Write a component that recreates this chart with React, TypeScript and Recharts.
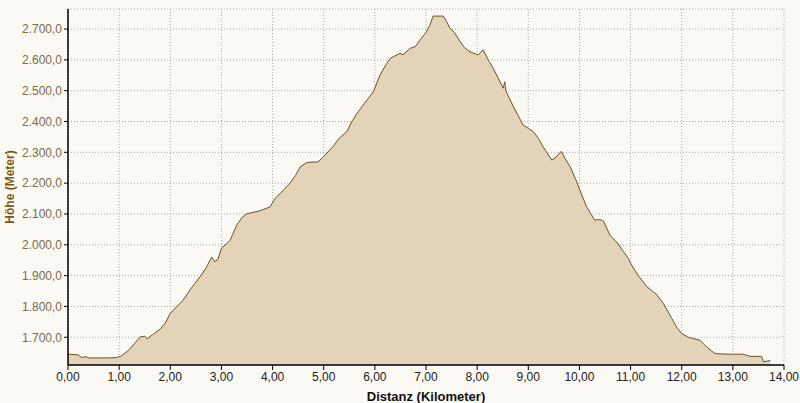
import React from "react";
import { AreaChart, Area, XAxis, YAxis, CartesianGrid, Label } from "recharts";

const distanceKm = [
  0.0, 0.2, 0.25, 0.3, 0.35, 0.4, 0.6, 0.8, 0.95, 1.05, 1.2, 1.3, 1.41, 1.5, 1.55, 1.65, 1.8, 1.9, 2.0, 2.1,
  2.25, 2.4, 2.58, 2.7, 2.81, 2.87, 2.93, 3.0, 3.1, 3.17, 3.3, 3.4, 3.49, 3.56, 3.75, 3.95, 4.05, 4.15, 4.34,
  4.45, 4.54, 4.67, 4.89, 4.99, 5.18, 5.3, 5.45, 5.55, 5.65, 5.8, 5.97, 6.1, 6.23, 6.3, 6.49, 6.55, 6.69, 6.79,
  6.88, 7.01, 7.08, 7.14, 7.34, 7.4, 7.47, 7.55, 7.67, 7.75, 7.86, 8.02, 8.07, 8.12, 8.22, 8.3, 8.38, 8.51,
  8.54, 8.56, 8.71, 8.8, 8.9, 9.0, 9.1, 9.2, 9.29, 9.42, 9.46, 9.55, 9.62, 9.65, 9.72, 9.82, 9.92, 10.01,
  10.14, 10.3, 10.4, 10.47, 10.6, 10.73, 10.85, 10.96, 11.02, 11.15, 11.32, 11.5, 11.64, 11.8, 11.9, 12.0,
  12.13, 12.36, 12.49, 12.65, 12.91, 13.2, 13.34, 13.56, 13.6, 13.73,
];

const elevationM = [
  1645, 1643, 1636, 1635, 1637, 1633, 1633, 1633, 1634, 1640, 1660, 1680, 1701, 1703, 1695, 1708, 1726, 1745, 1778, 1795,
  1820, 1857, 1896, 1925, 1960, 1945, 1952, 1989, 2003, 2015, 2064, 2088, 2100, 2103, 2110, 2123, 2150, 2167, 2200,
  2225, 2253, 2267, 2269, 2285, 2318, 2345, 2367, 2400, 2426, 2460, 2496, 2551, 2588, 2605, 2621, 2617, 2637, 2643,
  2664, 2691, 2715, 2742, 2742, 2725, 2702, 2690, 2659, 2640, 2626, 2616, 2625, 2632, 2599, 2577, 2551, 2508,
  2529, 2500, 2448, 2420, 2388, 2378, 2367, 2345, 2318, 2285, 2275, 2285, 2300, 2302, 2280, 2253, 2215, 2177,
  2123, 2080, 2082, 2077, 2030, 2009, 1980, 1955, 1934, 1900, 1864, 1840, 1810, 1763, 1733, 1712,
  1700, 1690, 1668, 1647, 1645, 1645, 1638, 1638, 1620, 1625,
];

const xTicks = [0, 1, 2, 3, 4, 5, 6, 7, 8, 9, 10, 11, 12, 13, 14];
const yTicks = [1700, 1800, 1900, 2000, 2100, 2200, 2300, 2400, 2500, 2600, 2700];

const data = distanceKm.map((d, i) => ({ d, h: elevationM[i] }));

const fmtX = (v: number) => v.toFixed(2).replace(".", ",");
const fmtY = (v: number) => {
  const s = Math.round(v).toString();
  const th = s.length > 3 ? s.slice(0, s.length - 3) + "." + s.slice(s.length - 3) : s;
  return th + ",0";
};

const FONT = "'Liberation Sans', Arial, sans-serif";

export default function App() {
  return (
    <div style={{ position: "absolute", left: 0, top: 0, width: 800, height: 403, background: "#FBF9F4" }}>
      <AreaChart width={800} height={403} data={data} margin={{ top: 9, right: 16, bottom: 0, left: 8 }}>
        <CartesianGrid stroke="#A8A8A8" strokeDasharray="1 2" horizontal vertical />
        <XAxis
          dataKey="d"
          type="number"
          domain={[0, 14]}
          ticks={xTicks}
          tickFormatter={fmtX}
          axisLine={{ stroke: "#000", strokeWidth: 1.5 }}
          tickLine={{ stroke: "#000" }}
          tickSize={5}
          tick={{ fill: "#222", fontSize: 12, fontFamily: FONT }}
          interval={0}
          height={38}
        >
          <Label value="Distanz (Kilometer)" position="insideBottom" offset={2} style={{ fill: "#111", fontSize: 13, fontWeight: "bold", fontFamily: FONT }} />
        </XAxis>
        <YAxis
          type="number"
          domain={[1610, 2765]}
          ticks={yTicks}
          tickFormatter={fmtY}
          axisLine={{ stroke: "#000", strokeWidth: 1.5 }}
          tickLine={{ stroke: "#000" }}
          tickSize={4}
          tick={{ fill: "#7D6A47", fontSize: 12, fontFamily: FONT }}
          width={60}
          allowDataOverflow
        >
          <Label value="Höhe (Meter)" angle={-90} position="insideLeft" offset={2} style={{ fill: "#7A5A12", fontSize: 12, fontWeight: "bold", fontFamily: FONT, textAnchor: "middle" }} />
        </YAxis>
        <Area
          type="linear"
          dataKey="h"
          stroke="#6B5226"
          strokeWidth={1}
          fill="#E2D3B9"
          fillOpacity={1}
          isAnimationActive={false}
          dot={false}
          activeDot={false}
        />
      </AreaChart>
    </div>
  );
}
